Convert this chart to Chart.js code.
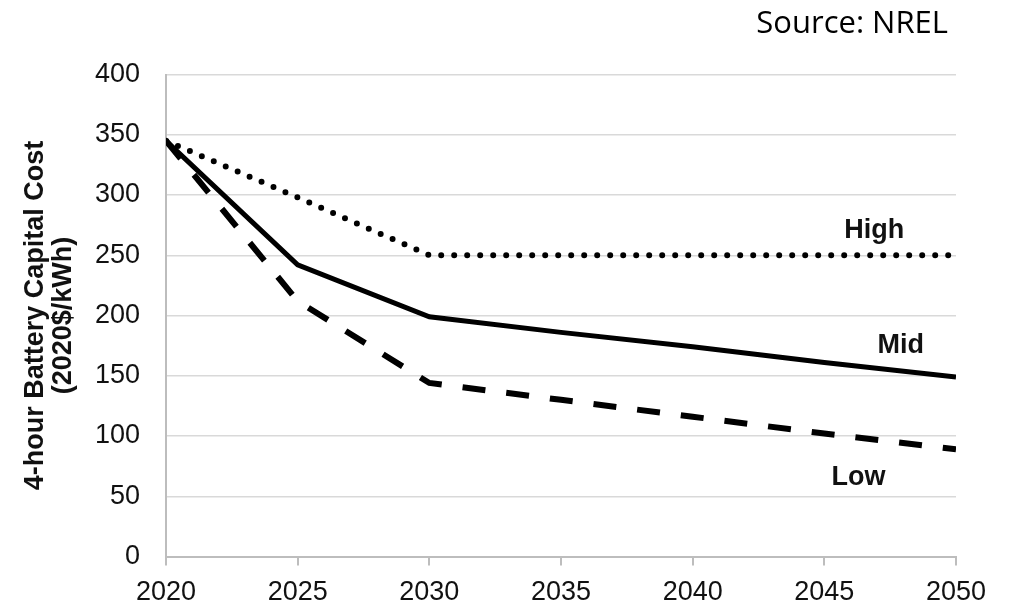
<!DOCTYPE html>
<html>
<head>
<meta charset="utf-8">
<script src="https://cdn.jsdelivr.net/npm/chart.js@4"></script>
<style>
  html, body { margin: 0; padding: 0; background: #ffffff; }
  #wrap { width: 1010px; height: 605px; position: relative; }
</style>
</head>
<body>
<div id="wrap"><canvas id="c" width="1010" height="605"></canvas></div>
<script>
const years = [2020, 2025, 2030, 2035, 2040, 2045, 2050];
const highValues = [345, 298, 250, 250, 250, 250, 250];
const midValues  = [345, 242, 199, 186, 174, 161, 149];
const lowValues  = [345, 212, 144, 130, 116, 102, 89];
const xTicks = [2020, 2025, 2030, 2035, 2040, 2045, 2050];
const yTicks = [0, 50, 100, 150, 200, 250, 300, 350, 400];
const seriesNames = ['High', 'Mid', 'Low'];
const labelYears = [2046.9, 2047.9, 2046.3];
const labelValues = [264, 169, 59];
const yTitle = ['4-hour Battery Capital Cost', '(2020$/kWh)'];
const sourceText = 'Source: NREL';

const pts = arr => years.map((y, i) => ({ x: y, y: arr[i] }));

const textPlugin = {
  id: 'textPlugin',
  afterDatasetsDraw(chart) {
    const ctx = chart.ctx;
    const xs = chart.scales.x, ys = chart.scales.y;
    ctx.save();
    ctx.fillStyle = '#111111';
    ctx.font = 'bold 27px "Liberation Sans", Arial, sans-serif';
    ctx.textAlign = 'center';
    ctx.textBaseline = 'alphabetic';
    seriesNames.forEach((n, i) => {
      ctx.fillText(n, xs.getPixelForValue(labelYears[i]), ys.getPixelForValue(labelValues[i]));
    });
    ctx.font = '31px "Open Sans", sans-serif';
    ctx.textAlign = 'right';
    ctx.fillStyle = '#000000';
    ctx.fillText(sourceText, 948, 33);
    ctx.restore();
  }
};

new Chart(document.getElementById('c'), {
  type: 'line',
  data: {
    datasets: [
      { label: seriesNames[0], data: pts(highValues), borderColor: '#000', borderWidth: 6,
        borderDash: [0, 13], borderCapStyle: 'round', pointRadius: 0, tension: 0, fill: false },
      { label: seriesNames[1], data: pts(midValues), borderColor: '#000', borderWidth: 5,
        pointRadius: 0, tension: 0, fill: false },
      { label: seriesNames[2], data: pts(lowValues), borderColor: '#000', borderWidth: 6,
        borderDash: [23, 21], borderCapStyle: 'butt', pointRadius: 0, tension: 0, fill: false }
    ]
  },
  options: {
    responsive: false,
    animation: false,
    devicePixelRatio: 1,
    layout: { padding: { top: 74.5, right: 54, left: 0, bottom: 0 } },
    plugins: { legend: { display: false }, tooltip: { enabled: false } },
    scales: {
      x: {
        type: 'linear', min: 2020, max: 2050,
        afterBuildTicks: s => { s.ticks = xTicks.map(v => ({ value: v })); },
        afterFit: s => { s.height = 48.5; },
        grid: { drawOnChartArea: false, drawTicks: true, tickLength: 9, color: '#bdbdbd', lineWidth: 2 },
        border: { color: '#bdbdbd', width: 2 },
        ticks: { color: '#111', padding: 11, maxRotation: 0, autoSkip: false,
          font: { family: '"Liberation Sans", Arial, sans-serif', size: 27 },
          callback: v => String(v) }
      },
      y: {
        min: 0, max: 400,
        afterBuildTicks: s => { s.ticks = yTicks.map(v => ({ value: v })); },
        afterFit: s => { s.width = 166; },
        grid: { color: '#d9d9d9', lineWidth: 1.5, drawTicks: false },
        border: { color: '#bdbdbd', width: 2 },
        ticks: { color: '#111', padding: 26,
          font: { family: '"Liberation Sans", Arial, sans-serif', size: 27 } },
        title: { display: true, text: yTitle, color: '#111',
          padding: { top: 22, bottom: 0 },
          font: { family: '"Liberation Sans", Arial, sans-serif', size: 27, weight: 'bold', lineHeight: 1.02 } }
      }
    }
  },
  plugins: [textPlugin]
});
</script>
</body>
</html>
